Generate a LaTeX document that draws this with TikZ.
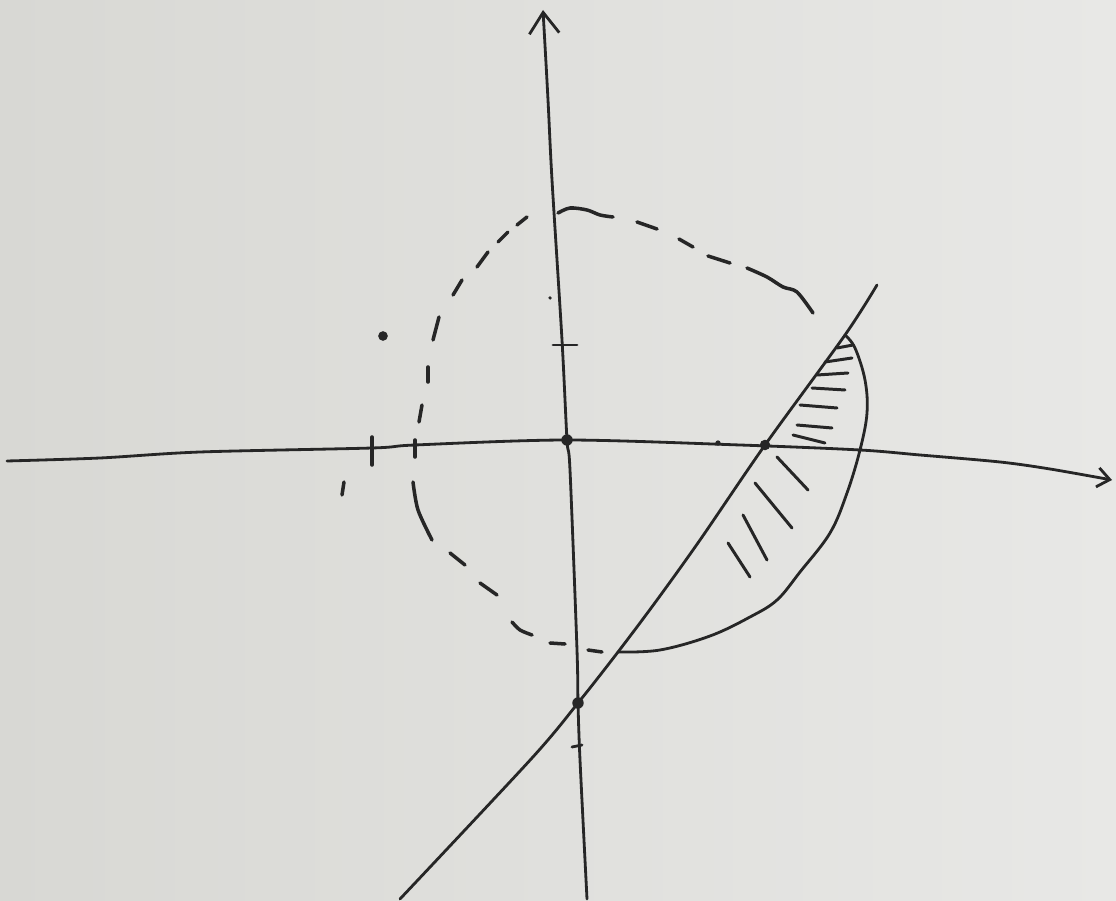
\documentclass[tikz,border=0pt]{standalone}
\usetikzlibrary{arrows.meta}
\definecolor{ink}{HTML}{262626}
\definecolor{paperL}{HTML}{D8D8D4}
\definecolor{paperR}{HTML}{E8E8E6}
\tikzset{
  pen/.style={line width=1.6pt, draw=ink, line cap=round, line join=round},
  dashpen/.style={line width=2.0pt, draw=ink, line cap=round, line join=round},
  hatch/.style={line width=1.7pt, draw=ink, line cap=round},
  dotnode/.style={circle, fill=ink, inner sep=0pt, minimum size=6.5pt},
  specknode/.style={circle, fill=ink, inner sep=0pt, minimum size=2pt},
}
\begin{document}
\begin{tikzpicture}[x=0.02cm, y=-0.02cm]
\useasboundingbox (0,0) rectangle (1116,901);
\shade[left color=paperL, right color=paperR] (0,0) rectangle (1116,901);

% key points
\node[dotnode] (O) at (567,440) {};
\node[dotnode, minimum size=6pt] (P) at (765,445) {};
\node[dotnode] (Q) at (578,703) {};
\node[dotnode, minimum size=5.5pt] (A) at (383,336) {};
\coordinate (xl) at (7,461);
\coordinate (xr) at (1112,480);
\coordinate (yt) at (543,10);
\coordinate (yb) at (587,899);
\coordinate (lb) at (400,899);
\coordinate (lt) at (877,285);
\coordinate (S) at (618,652);
\coordinate (T) at (845,335);

% horizontal axis
\draw[pen, -{Straight Barb[length=7pt,width=11pt,line width=1.6pt]}]
  plot[smooth, tension=0.5] coordinates {(xl) (100,458) (200,452) (372,448) (415,445) (O.center) (740,445) (860,450) (920,455) (1000,462) (1050,469) (xr)};
% vertical axis
\draw[pen, {Straight Barb[length=12pt,width=17pt,line width=1.6pt]}-]
  plot[smooth, tension=0.5] coordinates {(yt) (548,100) (552,180) (562,340) (O.center) (570,470) (577,650) (Q.center) (580,760) (yb)};

% slanted line
\draw[pen] plot[smooth, tension=0.5] coordinates {(lb) (532,758) (Q.center) (S) (657,600) (700,540) (P.center) (T) (lt)};

% solid arc bounding the region
\draw[pen] plot[smooth, tension=0.6] coordinates {(S) (660,650) (710,636) (750,617) (777,600) (800,572) (830,533) (847,493) (860,450) (867,413) (865,380) (855,348) (T)};

% dashed curve (hand drawn dashes)
\draw[dashpen] (527,217) -- (517,225);
\draw[dashpen] (508,232) -- (498,242);
\draw[dashpen] (488,252) -- (477,267);
\draw[dashpen] (462,280) -- (453,295);
\draw[dashpen] (439,317) -- (433,340);
\draw[dashpen] (428,367) -- (428,382);
\draw[dashpen] (422,405) -- (419,422);
\draw[dashpen] (415,440) -- (415,457);
\draw[dashpen] plot[smooth] coordinates {(413,482) (418,510) (432,540)};
\draw[dashpen] (450,553) -- (465,565);
\draw[dashpen] (480,583) -- (497,595);
\draw[dashpen] plot[smooth] coordinates {(512,622) (520,630) (532,635)};
\draw[dashpen] (550,643) -- (565,644);
\draw[dashpen] (588,650) -- (602,652);
\draw[dashpen] plot[smooth] coordinates {(558,213) (570,208) (587,210) (600,215) (613,217)};
\draw[dashpen] (637,222) -- (657,229);
\draw[dashpen] (679,239) -- (693,247);
\draw[dashpen] (708,256) -- (730,263);
\draw[dashpen] plot[smooth] coordinates {(747,268) (767,277) (783,287) (797,292) (813,313)};

% hatching
\draw[hatch] (837,348) -- (853,345);
\draw[hatch] (825,362) -- (852,358);
\draw[hatch] (817,375) -- (848,373);
\draw[hatch] (812,388) -- (845,390);
\draw[hatch] (800,405) -- (837,408);
\draw[hatch] (797,425) -- (832,428);
\draw[hatch] (793,435) -- (825,443);
\draw[hatch] (777,457) -- (808,490);
\draw[hatch] (755,483) -- (792,528);
\draw[hatch] (743,515) -- (767,560);
\draw[hatch] (728,543) -- (750,577);

% ticks and stray marks
\draw[pen, line width=1.7pt] (553,345) -- (577,345);
\draw[pen, line width=2pt] (372,437) -- (372,465);
\draw[pen, line width=2pt] (344,482) -- (342,495);
\draw[pen] (572,747) -- (582,745);
\node[specknode] (s1) at (550,298) {};
\node[specknode, minimum size=3pt] (s2) at (718,443) {};
\end{tikzpicture}
\end{document}
